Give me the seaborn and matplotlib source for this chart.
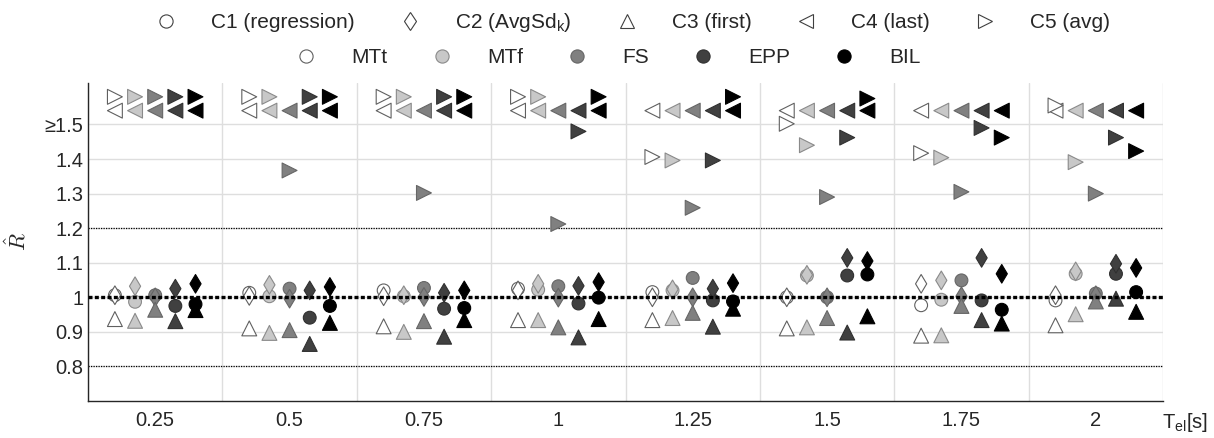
import numpy as np
import pandas as pd
import matplotlib.pyplot as plt
from matplotlib.lines import Line2D
import seaborn as sns

# T_el groups and estimation methods
tel_labels = ["0.25", "0.5", "0.75", "1", "1.25", "1.5", "1.75", "2"]
methods = ["MTt", "MTf", "FS", "EPP", "BIL"]

# R-hat per group (rows) and method (cols: MTt, MTf, FS, EPP, BIL)
c1_regression = [
    [1.006, 0.987, 1.006, 0.975, 0.980],
    [1.013, 1.003, 1.025, 0.941, 0.975],
    [1.020, 1.003, 1.027, 0.967, 0.969],
    [1.025, 1.022, 1.032, 0.982, 0.999],
    [1.015, 1.020, 1.056, 0.991, 0.988],
    [1.000, 1.063, 1.000, 1.063, 1.066],
    [0.977, 0.993, 1.049, 0.991, 0.964],
    [0.991, 1.068, 1.011, 1.068, 1.015],
]
c2_avgsd = [
    [1.006, 1.032, 1.000, 1.025, 1.039],
    [1.004, 1.036, 0.996, 1.020, 1.030],
    [1.003, 1.006, 1.001, 1.013, 1.020],
    [1.020, 1.039, 0.999, 1.033, 1.044],
    [1.000, 1.023, 1.000, 1.025, 1.041],
    [1.000, 1.065, 1.000, 1.114, 1.105],
    [1.039, 1.049, 1.003, 1.114, 1.068],
    [1.006, 1.075, 1.006, 1.097, 1.085],
]
c3_first = [
    [0.937, 0.932, 0.964, 0.931, 0.963],
    [0.910, 0.897, 0.905, 0.865, 0.926],
    [0.916, 0.900, 0.931, 0.886, 0.934],
    [0.934, 0.934, 0.913, 0.884, 0.937],
    [0.934, 0.940, 0.955, 0.915, 0.967],
    [0.910, 0.913, 0.940, 0.898, 0.945],
    [0.889, 0.890, 0.975, 0.934, 0.924],
    [0.919, 0.951, 0.988, 0.996, 0.958],
]
# values >= 1.5 are shown clipped near the top
c4_last = [[1.54] * 5 for _ in range(8)]
c5_avg = [
    [1.58, 1.58, 1.58, 1.58, 1.58],
    [1.58, 1.58, 1.367, 1.58, 1.58],
    [1.58, 1.58, 1.302, 1.58, 1.58],
    [1.58, 1.58, 1.212, 1.48, 1.58],
    [1.406, 1.396, 1.259, 1.396, 1.58],
    [1.502, 1.44, 1.29, 1.462, 1.575],
    [1.417, 1.404, 1.305, 1.49, 1.462],
    [1.555, 1.391, 1.30, 1.462, 1.423],
]

criteria = ["C1", "C2", "C3", "C4", "C5"]
crit_labels = ["C1 (regression)", r"C2 (AvgSd$_{\mathrm{k}}$)", "C3 (first)",
               "C4 (last)", "C5 (avg)"]
markers = {"C1": "o", "C2": "d", "C3": "^", "C4": "<", "C5": ">"}
sizes = {"C1": 85, "C2": 90, "C3": 115, "C4": 115, "C5": 115}
fills = {"MTt": "white", "MTf": "#c8c8c8", "FS": "#808080", "EPP": "#404040", "BIL": "black"}
edges = {"MTt": "#606060", "MTf": "#8a8a8a", "FS": "#666666", "EPP": "#303030", "BIL": "black"}
offsets = [-0.3, -0.15, 0.0, 0.15, 0.3]

rows = []
for crit, vals in zip(criteria, [c1_regression, c2_avgsd, c3_first, c4_last, c5_avg]):
    for gi, tel in enumerate(tel_labels):
        for mi, m in enumerate(methods):
            rows.append(dict(tel=tel, method=m, criterion=crit,
                             value=vals[gi][mi], x=gi + offsets[mi]))
df = pd.DataFrame(rows)

sns.set_theme(style="white")
plt.rcParams["font.family"] = ["Liberation Sans", "DejaVu Sans"]
plt.rcParams["mathtext.fontset"] = "custom"
plt.rcParams["mathtext.rm"] = "Liberation Sans"
plt.rcParams["mathtext.it"] = "Liberation Sans:italic"

axc = "#262626"
fig = plt.figure(figsize=(12.14, 4.38), dpi=100)
ax = fig.add_axes([0.0725, 0.0845, 0.8855, 0.726])

for m in methods:
    sns.scatterplot(data=df[df.method == m], x="x", y="value",
                    style="criterion", markers=markers,
                    size="criterion", sizes=sizes,
                    color=fills[m], edgecolor=edges[m], linewidth=0.8,
                    legend=False, ax=ax, zorder=3)

# reference lines
ax.axhline(1.0, color="black", lw=2.4, ls=(0, (1.2, 0.7)), zorder=5)
for yv in [0.8, 1.2]:
    ax.axhline(yv, color="black", lw=0.9, ls=(0, (1, 1)), zorder=2)

ax.set_xlim(-0.5, 7.5)
ax.set_ylim(0.7, 1.62)
ax.set_xticks(np.arange(len(tel_labels)))
ax.set_xticklabels(tel_labels)
ax.set_xticks(np.arange(-0.5, 8, 1), minor=True)
yt = [0.8, 0.9, 1.0, 1.1, 1.2, 1.3, 1.4, 1.5]
ax.set_yticks(yt)
ax.set_yticklabels(["0.8", "0.9", "1", "1.1", "1.2", "1.3", "1.4", "\u22651.5"])

ax.tick_params(axis="x", which="major", direction="in", length=8, width=1,
               color=axc, labelcolor=axc, labelsize=14.5, pad=7)
ax.tick_params(axis="x", which="minor", direction="in", length=16, width=1, color=axc)
ax.tick_params(axis="y", direction="in", length=8.4, width=1,
               color=axc, labelcolor=axc, labelsize=14.5, pad=3.5)

ax.grid(False)
ax.yaxis.grid(True, color="#dedede", lw=1, zorder=0)
ax.xaxis.grid(True, which="minor", color="#dedede", lw=1, zorder=0)
ax.set_axisbelow(True)
for s in ["top", "right"]:
    ax.spines[s].set_visible(False)
for s in ["left", "bottom"]:
    ax.spines[s].set_color(axc)
    ax.spines[s].set_linewidth(1)

ax.set_xlabel("")
ax.set_ylabel(r"$\hat{R}$", fontsize=16, color=axc, math_fontfamily="cm", labelpad=10)
ax.annotate(r"T$_{\mathrm{el}}$[s]", xy=(1, 0), xycoords="axes fraction",
            xytext=(-1, -7), textcoords="offset points", ha="left", va="top",
            fontsize=14.5, color=axc)

# legends
crit_handles = [Line2D([], [], marker=markers[c], ls="none",
                       markersize=10 if c in ("C3", "C4", "C5") else 9.5,
                       markerfacecolor="white", markeredgecolor="#404040", markeredgewidth=0.8)
                for c in criteria]
fig.legend(crit_handles, crit_labels, loc="center", bbox_to_anchor=(0.5215, 0.9475),
           ncol=5, frameon=False, fontsize=15, handlelength=1.0,
           handletextpad=1.66, columnspacing=2.14, labelcolor=axc)
meth_handles = [Line2D([], [], marker="o", ls="none", markersize=9.5,
                       markerfacecolor=fills[m], markeredgecolor=edges[m], markeredgewidth=0.8)
                for m in methods]
fig.legend(meth_handles, methods, loc="center", bbox_to_anchor=(0.501, 0.8676),
           ncol=5, frameon=False, fontsize=15, handlelength=1.0,
           handletextpad=1.66, columnspacing=2.1, labelcolor=axc)

fig.savefig("out.png", dpi=100)
